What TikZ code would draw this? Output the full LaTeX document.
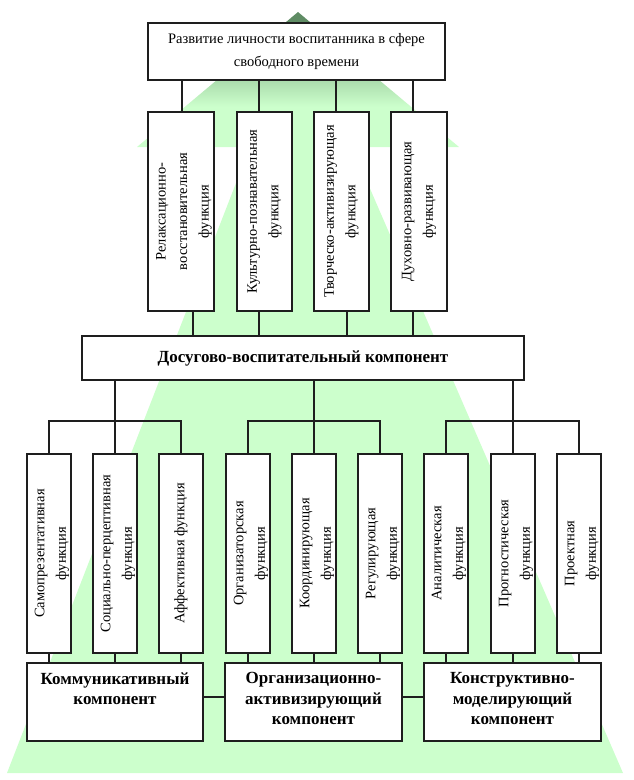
\documentclass[tikz,border=0pt]{standalone}
\usepackage{fontspec}
\setmainfont{Liberation Serif}
\usetikzlibrary{calc}
\definecolor{lg}{RGB}{204,255,204}
\definecolor{dg}{RGB}{95,140,100}
\definecolor{ln}{RGB}{30,30,30}
\pgfdeclareverticalshading{arrowtop}{100bp}{color(0bp)=(lg); color(40bp)=(lg); color(72bp)=(dg); color(100bp)=(dg)}
\begin{document}
\begin{tikzpicture}[x=1pt,y=-1pt,
  box/.style={draw=ln, line width=1.3pt, fill=white, inner sep=0pt},
  vtext/.style={rotate=90, font=\fontsize{14.5}{21.5}\selectfont, align=center, inner sep=0pt},
  htext/.style={font=\fontsize{14.5}{23}\selectfont, align=center},
  btext/.style={font=\fontsize{17}{20.5}\selectfont\bfseries, align=center, inner sep=0pt},
  conn/.style={draw=ln, line width=1.3pt}]
\useasboundingbox (0,0) rectangle (634,780);
% background arrow
\fill[lg] (250,147) -- (352,147) -- (623,773) -- (7,773) -- cycle;
\shade[shading=arrowtop] (298,12) -- (459,147) -- (137,147) -- cycle;

% top box
\node[box, htext, minimum width=297pt, minimum height=57pt] (top) at (296.5,51.5)
  {Развитие личности воспитанника в сфере\\свободного времени};

% second row
\node[box, minimum width=66pt, minimum height=199pt] (f1) at (181,211.5) {};
\node[box, minimum width=55pt, minimum height=199pt] (f2) at (264.5,211.5) {};
\node[box, minimum width=55pt, minimum height=199pt] (f3) at (341.5,211.5) {};
\node[box, minimum width=56pt, minimum height=199pt] (f4) at (419,211.5) {};
\node[vtext] (f1t) at ($(f1.center)+(3,0)$) {Релаксационно-\\восстановительная\\функция};
\node[vtext] (f2t) at (f2.center) {Культурно-познавательная\\функция};
\node[vtext] (f3t) at (f3.center) {Творческо-активизирующая\\функция};
\node[vtext] (f4t) at (f4.center) {Духовно-развивающая\\функция};

% middle box
\node[box, btext, minimum width=442pt, minimum height=44pt] (mid) at (303,358)
  {Досугово-воспитательный компонент};

% third row
\foreach \i/\x in {1/49,2/115,3/181,4/248,5/314,6/380,7/446,8/513,9/579}{
  \node[box, minimum width=44pt, minimum height=199pt] (g\i) at (\x,553.5) {};
}
\node[vtext] (g1t) at ($(g1.center)+(3,0)$) {Самопрезентативная\\функция};
\node[vtext] (g2t) at ($(g2.center)+(3,0)$) {Социально-перцептивная\\функция};
\node[vtext] (g3t) at (g3.center) {Аффективная функция};
\node[vtext] (g4t) at ($(g4.center)+(3,0)$) {Организаторская\\функция};
\node[vtext] (g5t) at ($(g5.center)+(3,0)$) {Координирующая\\функция};
\node[vtext] (g6t) at ($(g6.center)+(3,0)$) {Регулирующая\\функция};
\node[vtext] (g7t) at ($(g7.center)+(3,0)$) {Аналитическая\\функция};
\node[vtext] (g8t) at ($(g8.center)+(3,0)$) {Прогностическая\\функция};
\node[vtext] (g9t) at ($(g9.center)+(3,0)$) {Проектная\\функция};

% components
\node[box, minimum width=176pt, minimum height=78pt] (k1) at (115,702) {};
\node[box, minimum width=177pt, minimum height=78pt] (k2) at (313.5,702) {};
\node[box, minimum width=177pt, minimum height=78pt] (k3) at (512.5,702) {};
\node[btext, anchor=north] (k1t) at ($(k1.north)+(0,10)$) {Коммуникативный\\компонент};
\node[btext, anchor=north] (k2t) at ($(k2.north)+(0,10)$) {Организационно-\\активизирующий\\компонент};
\node[btext, anchor=north] (k3t) at ($(k3.north)+(0,10)$) {Конструктивно-\\моделирующий\\компонент};

% connectors: top -> second row
\draw[conn] ($(top.south -| f1.north)+(1,0)$) -- ($(f1.north)+(1,0)$);
\draw[conn] ($(top.south -| f2.north)+(-5.5,0)$) -- ($(f2.north)+(-5.5,0)$);
\draw[conn] ($(top.south -| f3.north)+(-5.5,0)$) -- ($(f3.north)+(-5.5,0)$);
\draw[conn] ($(top.south -| f4.north)+(-6,0)$) -- ($(f4.north)+(-6,0)$);
% second row -> middle
\draw[conn] ($(f1.south)+(12,0)$) -- ($(mid.north -| f1.south)+(12,0)$);
\draw[conn] ($(f2.south)+(-5.5,0)$) -- ($(mid.north -| f2.south)+(-5.5,0)$);
\draw[conn] ($(f3.south)+(5.5,0)$) -- ($(mid.north -| f3.south)+(5.5,0)$);
\draw[conn] ($(f4.south)+(-6,0)$) -- ($(mid.north -| f4.south)+(-6,0)$);
% middle -> third row
\coordinate (hb) at (0,421);
\draw[conn] (mid.south -| g2.north) -- (g2.north);
\draw[conn] (mid.south -| g5.north) -- (g5.north);
\draw[conn] (mid.south -| g8.north) -- (g8.north);
\draw[conn] (g1.north) -- (g1.north |- hb) -- (g3.north |- hb) -- (g3.north);
\draw[conn] (g4.north) -- (g4.north |- hb) -- (g6.north |- hb) -- (g6.north);
\draw[conn] (g7.north) -- (g7.north |- hb) -- (g9.north |- hb) -- (g9.north);
% third row -> components
\foreach \i/\k in {1/k1,2/k1,3/k1,4/k2,5/k2,6/k2,7/k3,8/k3,9/k3}{
  \draw[conn] (g\i.south) -- (\k.north -| g\i.south);
}
% between components
\draw[conn] ($(k1.east)+(0,-5)$) -- ($(k2.west)+(0,-5)$);
\draw[conn] ($(k2.east)+(0,-5)$) -- ($(k3.west)+(0,-5)$);
\end{tikzpicture}
\end{document}
